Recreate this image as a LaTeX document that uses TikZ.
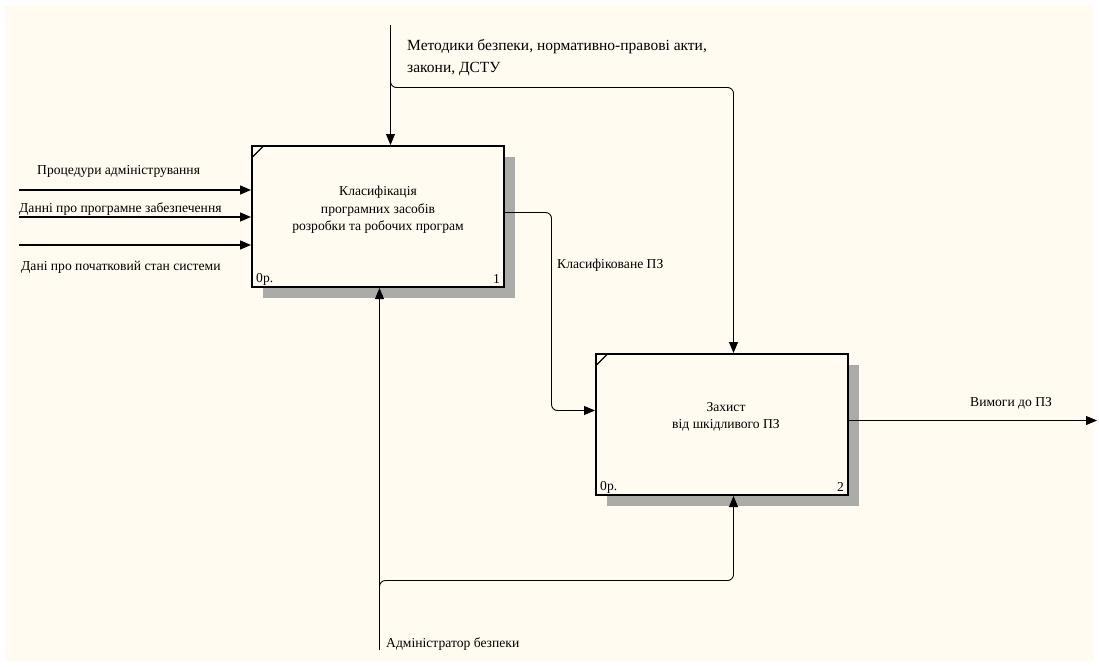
\documentclass[tikz,border=0pt]{standalone}
\usepackage{fontspec}
\setmainfont{Liberation Serif}
\usetikzlibrary{arrows.meta,calc}
\definecolor{bgc}{HTML}{FFFBF0}
\definecolor{shadowc}{HTML}{ABABA8}
\tikzset{
  box/.style={draw=black, line width=2pt, fill=bgc, rectangle, inner sep=0pt},
  shade/.style={fill=shadowc},
  conn/.style={draw=black, line width=0.9pt, rounded corners=6pt},
  arr/.style={-{Triangle[length=11pt,width=9pt]}},
  lbl/.style={font=\fontsize{13.6}{16}\selectfont, inner sep=0pt},
  boxtxt/.style={font=\fontsize{13.6}{17.5}\selectfont, align=center, inner sep=0pt},
  small/.style={font=\fontsize{13.6}{16}\selectfont, inner sep=0pt}
}
\begin{document}
\begin{tikzpicture}[x=1pt,y=-1pt]
\useasboundingbox (0,0) rectangle (1099,666);
\fill[white] (0,0) rectangle (1099,666);
\fill[bgc] (5,5) rectangle (1094,661);
% shadows
\fill[shade] (505,157) rectangle (515,298);
\fill[shade] (263,288) rectangle (515,298);
\fill[shade] (849,365) rectangle (859,506);
\fill[shade] (607,496) rectangle (859,506);
% boxes
\node[box, minimum width=252pt, minimum height=141pt] (b1) at (378,216.5) {};
\node[box, minimum width=252pt, minimum height=141pt] (b2) at (722,424.5) {};
\draw[line width=1.3pt] (252,157.5) -- (263,146.5);
\draw[line width=1.3pt] (596,365.5) -- (607,354.5);
\node[boxtxt] (t1) at (378,210) {Класифікація\\програмних засобів\\розробки та робочих програм};
\node[boxtxt] (t2) at (726,417) {Захист\\від шкідливого ПЗ};
\node[small, anchor=west] (p1) at (256,279) {0р.};
\node[small, anchor=east] (n1) at (500,279) {1};
\node[small, anchor=west] (p2) at (600,487) {0р.};
\node[small, anchor=east] (n2) at (844,487) {2};
% coordinates
\coordinate (i1) at (19,190);
\coordinate (i2) at (19,217);
\coordinate (i3) at (19,245);
\coordinate (ctop) at (390.5,25);
\coordinate (mbot) at (379.5,650);
\coordinate (oend) at (1097,420.5);
% inputs
\draw[conn, arr, line width=1.4pt] (i1) -- (i1 -| b1.west);
\draw[conn, arr, line width=1.4pt] (i2) -- (i2 -| b1.west);
\draw[conn, arr, line width=1.4pt] (i3) -- (i3 -| b1.west);
\node[lbl, anchor=west] (l1) at (37,171) {Процедури адміністрування};
\node[lbl, anchor=west] (l2) at (19,209) {Данні про програмне забезпечення};
\node[lbl, anchor=west] (l3) at (21,267) {Дані про початковий стан системи};
% control
\draw[conn, arr] (ctop) -- (ctop |- b1.north);
\draw[conn, arr] (390.5,79) |- (733.5,87.5) -- (733.5,0 |- b2.north);
\node[lbl, anchor=west, align=left, font=\fontsize{15.5}{22}\selectfont] (lc) at (407,58) {Методики безпеки, нормативно-правові акти,\\закони, ДСТУ};
% output 1 -> box 2
\draw[conn, arr] (504,212.5) -- (551.5,212.5) -- (551.5,410.5) -- (551.5,410.5 -| b2.west);
\node[lbl, anchor=west] (lo1) at (557,265) {Класифіковане ПЗ};
% output 2
\draw[conn, arr] (848,420.5) -- (oend);
\node[lbl, anchor=west] (lo2) at (970,403) {Вимоги до ПЗ};
% mechanism
\draw[conn, arr] (mbot) -- (mbot |- b1.south);
\draw[conn, arr] (379.5,587) |- (733.5,580.5) -- (733.5,0 |- b2.south);
\node[lbl, anchor=west] (lm) at (386,644) {Адміністратор безпеки};
\end{tikzpicture}
\end{document}
